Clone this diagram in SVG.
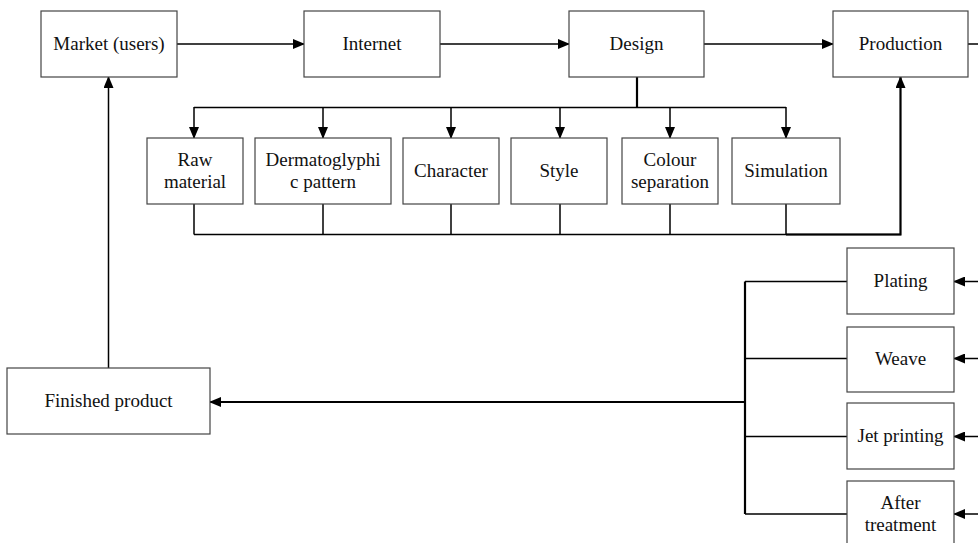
<svg xmlns="http://www.w3.org/2000/svg" width="978" height="543" viewBox="0 0 978 543">
<style>
  .box { fill: #fff; stroke: #444; stroke-width: 1.2; }
  .lbl { font-family: "Liberation Serif", "Times New Roman", serif; font-size: 19px; fill: #111; text-anchor: middle; }
  .ln { fill: none; stroke: #000; stroke-width: 1.5; }
  .lnb { fill: none; stroke: #000; stroke-width: 2.2; }
</style>
<defs>
  <marker id="arr" markerWidth="12" markerHeight="10" refX="11" refY="5" orient="auto" markerUnits="userSpaceOnUse">
    <path d="M0,0 L12,5 L0,10 Z" fill="#000"/>
  </marker>
</defs>

<g id="connectors">
  <!-- top chain -->
  <line class="ln" x1="177" y1="44" x2="304" y2="44" marker-end="url(#arr)"/>
  <line class="ln" x1="440" y1="44" x2="569" y2="44" marker-end="url(#arr)"/>
  <line class="ln" x1="704" y1="44" x2="833" y2="44" marker-end="url(#arr)"/>
  <line class="ln" x1="968" y1="44" x2="978" y2="44"/>
  <!-- design fan-out -->
  <line class="lnb" x1="637" y1="77" x2="637" y2="107.5"/>
  <line class="ln" x1="194" y1="107.5" x2="786" y2="107.5"/>
  <line class="ln" x1="194" y1="107" x2="194" y2="138" marker-end="url(#arr)"/>
  <line class="ln" x1="323" y1="107" x2="323" y2="138" marker-end="url(#arr)"/>
  <line class="ln" x1="451" y1="107" x2="451" y2="138" marker-end="url(#arr)"/>
  <line class="ln" x1="560" y1="107" x2="560" y2="138" marker-end="url(#arr)"/>
  <line class="ln" x1="670" y1="107" x2="670" y2="138" marker-end="url(#arr)"/>
  <line class="ln" x1="786" y1="107" x2="786" y2="138" marker-end="url(#arr)"/>
  <!-- collector back to production -->
  <line class="ln" x1="194" y1="204" x2="194" y2="234.5"/>
  <line class="ln" x1="323" y1="204" x2="323" y2="234.5"/>
  <line class="ln" x1="451" y1="204" x2="451" y2="234.5"/>
  <line class="ln" x1="560" y1="204" x2="560" y2="234.5"/>
  <line class="ln" x1="670" y1="204" x2="670" y2="234.5"/>
  <line class="ln" x1="786" y1="204" x2="786" y2="234.5"/>
  <line class="ln" x1="194" y1="234.5" x2="901" y2="234.5"/>
  <polyline class="lnb" points="786,234.5 900.5,234.5 900.5,77" marker-end="url(#arr)"/>
  <!-- process inputs from the right -->
  <line class="ln" x1="978" y1="281.5" x2="954" y2="281.5" marker-end="url(#arr)"/>
  <line class="ln" x1="978" y1="358.5" x2="954" y2="358.5" marker-end="url(#arr)"/>
  <line class="ln" x1="978" y1="436.5" x2="954" y2="436.5" marker-end="url(#arr)"/>
  <line class="ln" x1="978" y1="514" x2="954" y2="514" marker-end="url(#arr)"/>
  <!-- process outputs merge into finished product -->
  <line class="lnb" x1="745" y1="281.5" x2="745" y2="514"/>
  <line class="ln" x1="745" y1="281.5" x2="847" y2="281.5"/>
  <line class="ln" x1="745" y1="358.5" x2="847" y2="358.5"/>
  <line class="ln" x1="745" y1="436.5" x2="847" y2="436.5"/>
  <line class="ln" x1="745" y1="514" x2="847" y2="514"/>
  <line class="lnb" x1="745" y1="402" x2="210" y2="402" marker-end="url(#arr)"/>
  <!-- finished product back to market -->
  <line class="ln" x1="108.5" y1="368" x2="108.5" y2="77" marker-end="url(#arr)"/>
</g>

<g id="market"><rect class="box" x="41" y="11" width="136" height="66"/><text class="lbl" x="109" y="50">Market (users)</text></g>
<g id="internet"><rect class="box" x="304" y="11" width="136" height="66"/><text class="lbl" x="372" y="50">Internet</text></g>
<g id="design"><rect class="box" x="569" y="11" width="135" height="66"/><text class="lbl" x="636.5" y="50">Design</text></g>
<g id="production"><rect class="box" x="833" y="11" width="135" height="66"/><text class="lbl" x="900.5" y="50">Production</text></g>

<g id="raw-material"><rect class="box" x="147" y="138" width="96" height="66"/><text class="lbl" x="195" y="165.5">Raw</text><text class="lbl" x="195" y="188">material</text></g>
<g id="dermatoglyphic"><rect class="box" x="255" y="138" width="136" height="66"/><text class="lbl" x="323" y="165.5">Dermatoglyphi</text><text class="lbl" x="323" y="188">c pattern</text></g>
<g id="character"><rect class="box" x="403" y="138" width="96" height="66"/><text class="lbl" x="451" y="177">Character</text></g>
<g id="style"><rect class="box" x="511" y="138" width="96" height="66"/><text class="lbl" x="559" y="177">Style</text></g>
<g id="colour-separation"><rect class="box" x="622" y="138" width="96" height="66"/><text class="lbl" x="670" y="165.5">Colour</text><text class="lbl" x="670" y="188">separation</text></g>
<g id="simulation"><rect class="box" x="732" y="138" width="108" height="66"/><text class="lbl" x="786" y="177">Simulation</text></g>

<g id="plating"><rect class="box" x="847" y="248" width="107" height="66"/><text class="lbl" x="900.5" y="287">Plating</text></g>
<g id="weave"><rect class="box" x="847" y="327" width="107" height="65"/><text class="lbl" x="900.5" y="365">Weave</text></g>
<g id="jet-printing"><rect class="box" x="847" y="403" width="107" height="66"/><text class="lbl" x="900.5" y="442">Jet printing</text></g>
<g id="after-treatment"><rect class="box" x="847" y="481" width="107" height="66"/><text class="lbl" x="900.5" y="509">After</text><text class="lbl" x="900.5" y="531">treatment</text></g>

<g id="finished-product"><rect class="box" x="7" y="368" width="203" height="66"/><text class="lbl" x="108.5" y="407">Finished product</text></g>
</svg>
